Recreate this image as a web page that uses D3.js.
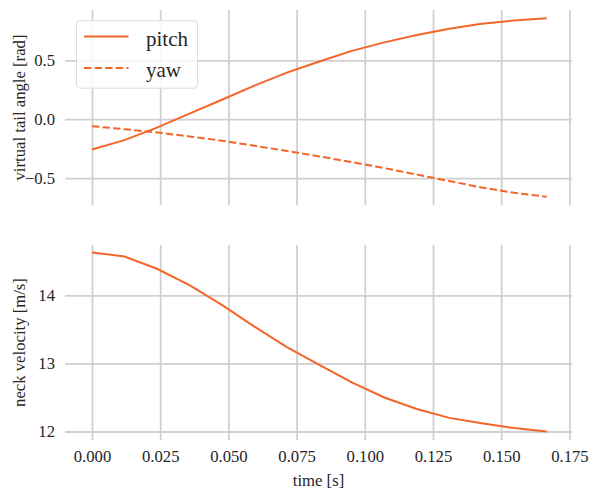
<!DOCTYPE html>
<html>
<head>
<meta charset="utf-8">
<script src="https://cdn.jsdelivr.net/npm/d3@7"></script>
<style>
  html, body { margin: 0; padding: 0; background: #fff; }
  svg { display: block; font-family: "Liberation Serif", "DejaVu Serif", serif; }
</style>
</head>
<body>
<svg id="chart" width="589" height="492"></svg>
<script>
// ---- data ----
const time = [0, 1/84, 2/84, 3/84, 4/84, 5/84, 6/84, 7/84, 8/84, 9/84, 10/84, 11/84, 12/84, 13/84, 14/84];
const pitch = [-0.257, -0.178, -0.072, 0.047, 0.165, 0.285, 0.395, 0.490, 0.580, 0.652, 0.715, 0.768, 0.810, 0.838, 0.856];
const yaw = [-0.059, -0.085, -0.112, -0.146, -0.183, -0.225, -0.270, -0.316, -0.364, -0.415, -0.470, -0.525, -0.580, -0.625, -0.658];
const neckVelocity = [14.63, 14.57, 14.39, 14.15, 13.86, 13.54, 13.24, 12.98, 12.72, 12.50, 12.33, 12.20, 12.12, 12.05, 12.00];
const xTicks = [0, 0.025, 0.05, 0.075, 0.1, 0.125, 0.15, 0.175];
const yTicksTop = [-0.5, 0, 0.5];
const yTicksBottom = [12, 13, 14];
const seriesNames = ["pitch", "yaw"];

(function () {
const color = "#f36528";
const gridColor = "#d0d0d0";
const textColor = "#262626";
const tickFont = 16.7;

const svg = d3.select("#chart");
const left = 65, right = 572;

const x = d3.scaleLinear().domain([0, 0.175]).range([92, 569.4]);

const panels = [
  { top: 10, bottom: 205, y: d3.scaleLinear().domain([-0.5, 0.5]).range([178.1, 60.3]),
    yTicks: yTicksTop, fmt: d => d3.format(".1f")(d).replace("-", "\u2212"),
    label: "virtual tail angle [rad]", showX: false },
  { top: 245, bottom: 440, y: d3.scaleLinear().domain([12, 14]).range([431.5, 295.3]),
    yTicks: yTicksBottom, fmt: d3.format("d"),
    label: "neck velocity [m/s]", showX: true }
];

panels.forEach(p => {
  const g = svg.append("g");
  const xa = d3.axisBottom(x).tickValues(xTicks)
    .tickSize(-(p.bottom - p.top)).tickPadding(10)
    .tickFormat(p.showX ? d3.format(".3f") : () => "");
  const gx = g.append("g").attr("transform", `translate(0,${p.bottom})`).call(xa);
  gx.select(".domain").remove();
  gx.selectAll("line").attr("stroke", gridColor).attr("stroke-width", 1.8);
  gx.selectAll("text").attr("fill", textColor).style("font-size", tickFont + "px")
    .style("font-family", "Liberation Serif");

  const ya = d3.axisLeft(p.y).tickValues(p.yTicks)
    .tickSize(-(right - left)).tickPadding(10).tickFormat(p.fmt);
  const gy = g.append("g").attr("transform", `translate(${left},0)`).call(ya);
  gy.select(".domain").remove();
  gy.selectAll("line").attr("stroke", gridColor).attr("stroke-width", 1.8);
  gy.selectAll("text").attr("fill", textColor).style("font-size", tickFont + "px")
    .style("font-family", "Liberation Serif");

  g.append("text")
    .attr("transform", `translate(25,${(p.top + p.bottom) / 2}) rotate(-90)`)
    .attr("text-anchor", "middle")
    .attr("fill", textColor)
    .style("font-size", tickFont + "px")
    .text(p.label);
  p.g = g;
});

const pTop = panels[0], pBot = panels[1];
const lineTop = d3.line().x((d, i) => x(time[i])).y(d => pTop.y(d));
pTop.g.append("path").datum(pitch).attr("d", lineTop)
  .attr("fill", "none").attr("stroke", color).attr("stroke-width", 2);
pTop.g.append("path").datum(yaw).attr("d", lineTop)
  .attr("fill", "none").attr("stroke", color).attr("stroke-width", 2)
  .attr("stroke-dasharray", "7.4,3.2");

const lineBot = d3.line().x((d, i) => x(time[i])).y(d => pBot.y(d));
pBot.g.append("path").datum(neckVelocity).attr("d", lineBot)
  .attr("fill", "none").attr("stroke", color).attr("stroke-width", 2);

svg.append("text")
  .attr("x", (left + right) / 2).attr("y", 486)
  .attr("text-anchor", "middle").attr("fill", textColor)
  .style("font-size", tickFont + "px")
  .text("time [s]");

const lg = svg.append("g");
lg.append("rect").attr("x", 76.5).attr("y", 20.7).attr("width", 121).attr("height", 67.5)
  .attr("rx", 3.5).attr("fill", "#fff").attr("fill-opacity", 0.8)
  .attr("stroke", "#dcdcdc").attr("stroke-width", 1);
const legY = [36.5, 68];
const legBase = [45.5, 76.5];
seriesNames.forEach((name, i) => {
  lg.append("line").attr("x1", 84).attr("x2", 128.5).attr("y1", legY[i]).attr("y2", legY[i])
    .attr("stroke", color).attr("stroke-width", 2)
    .attr("stroke-dasharray", i === 1 ? "7.4,3.2" : null);
  lg.append("text").attr("x", 146).attr("y", legBase[i]).attr("fill", textColor)
    .style("font-size", "21px").text(name);
});
})();
</script>
</body>
</html>
